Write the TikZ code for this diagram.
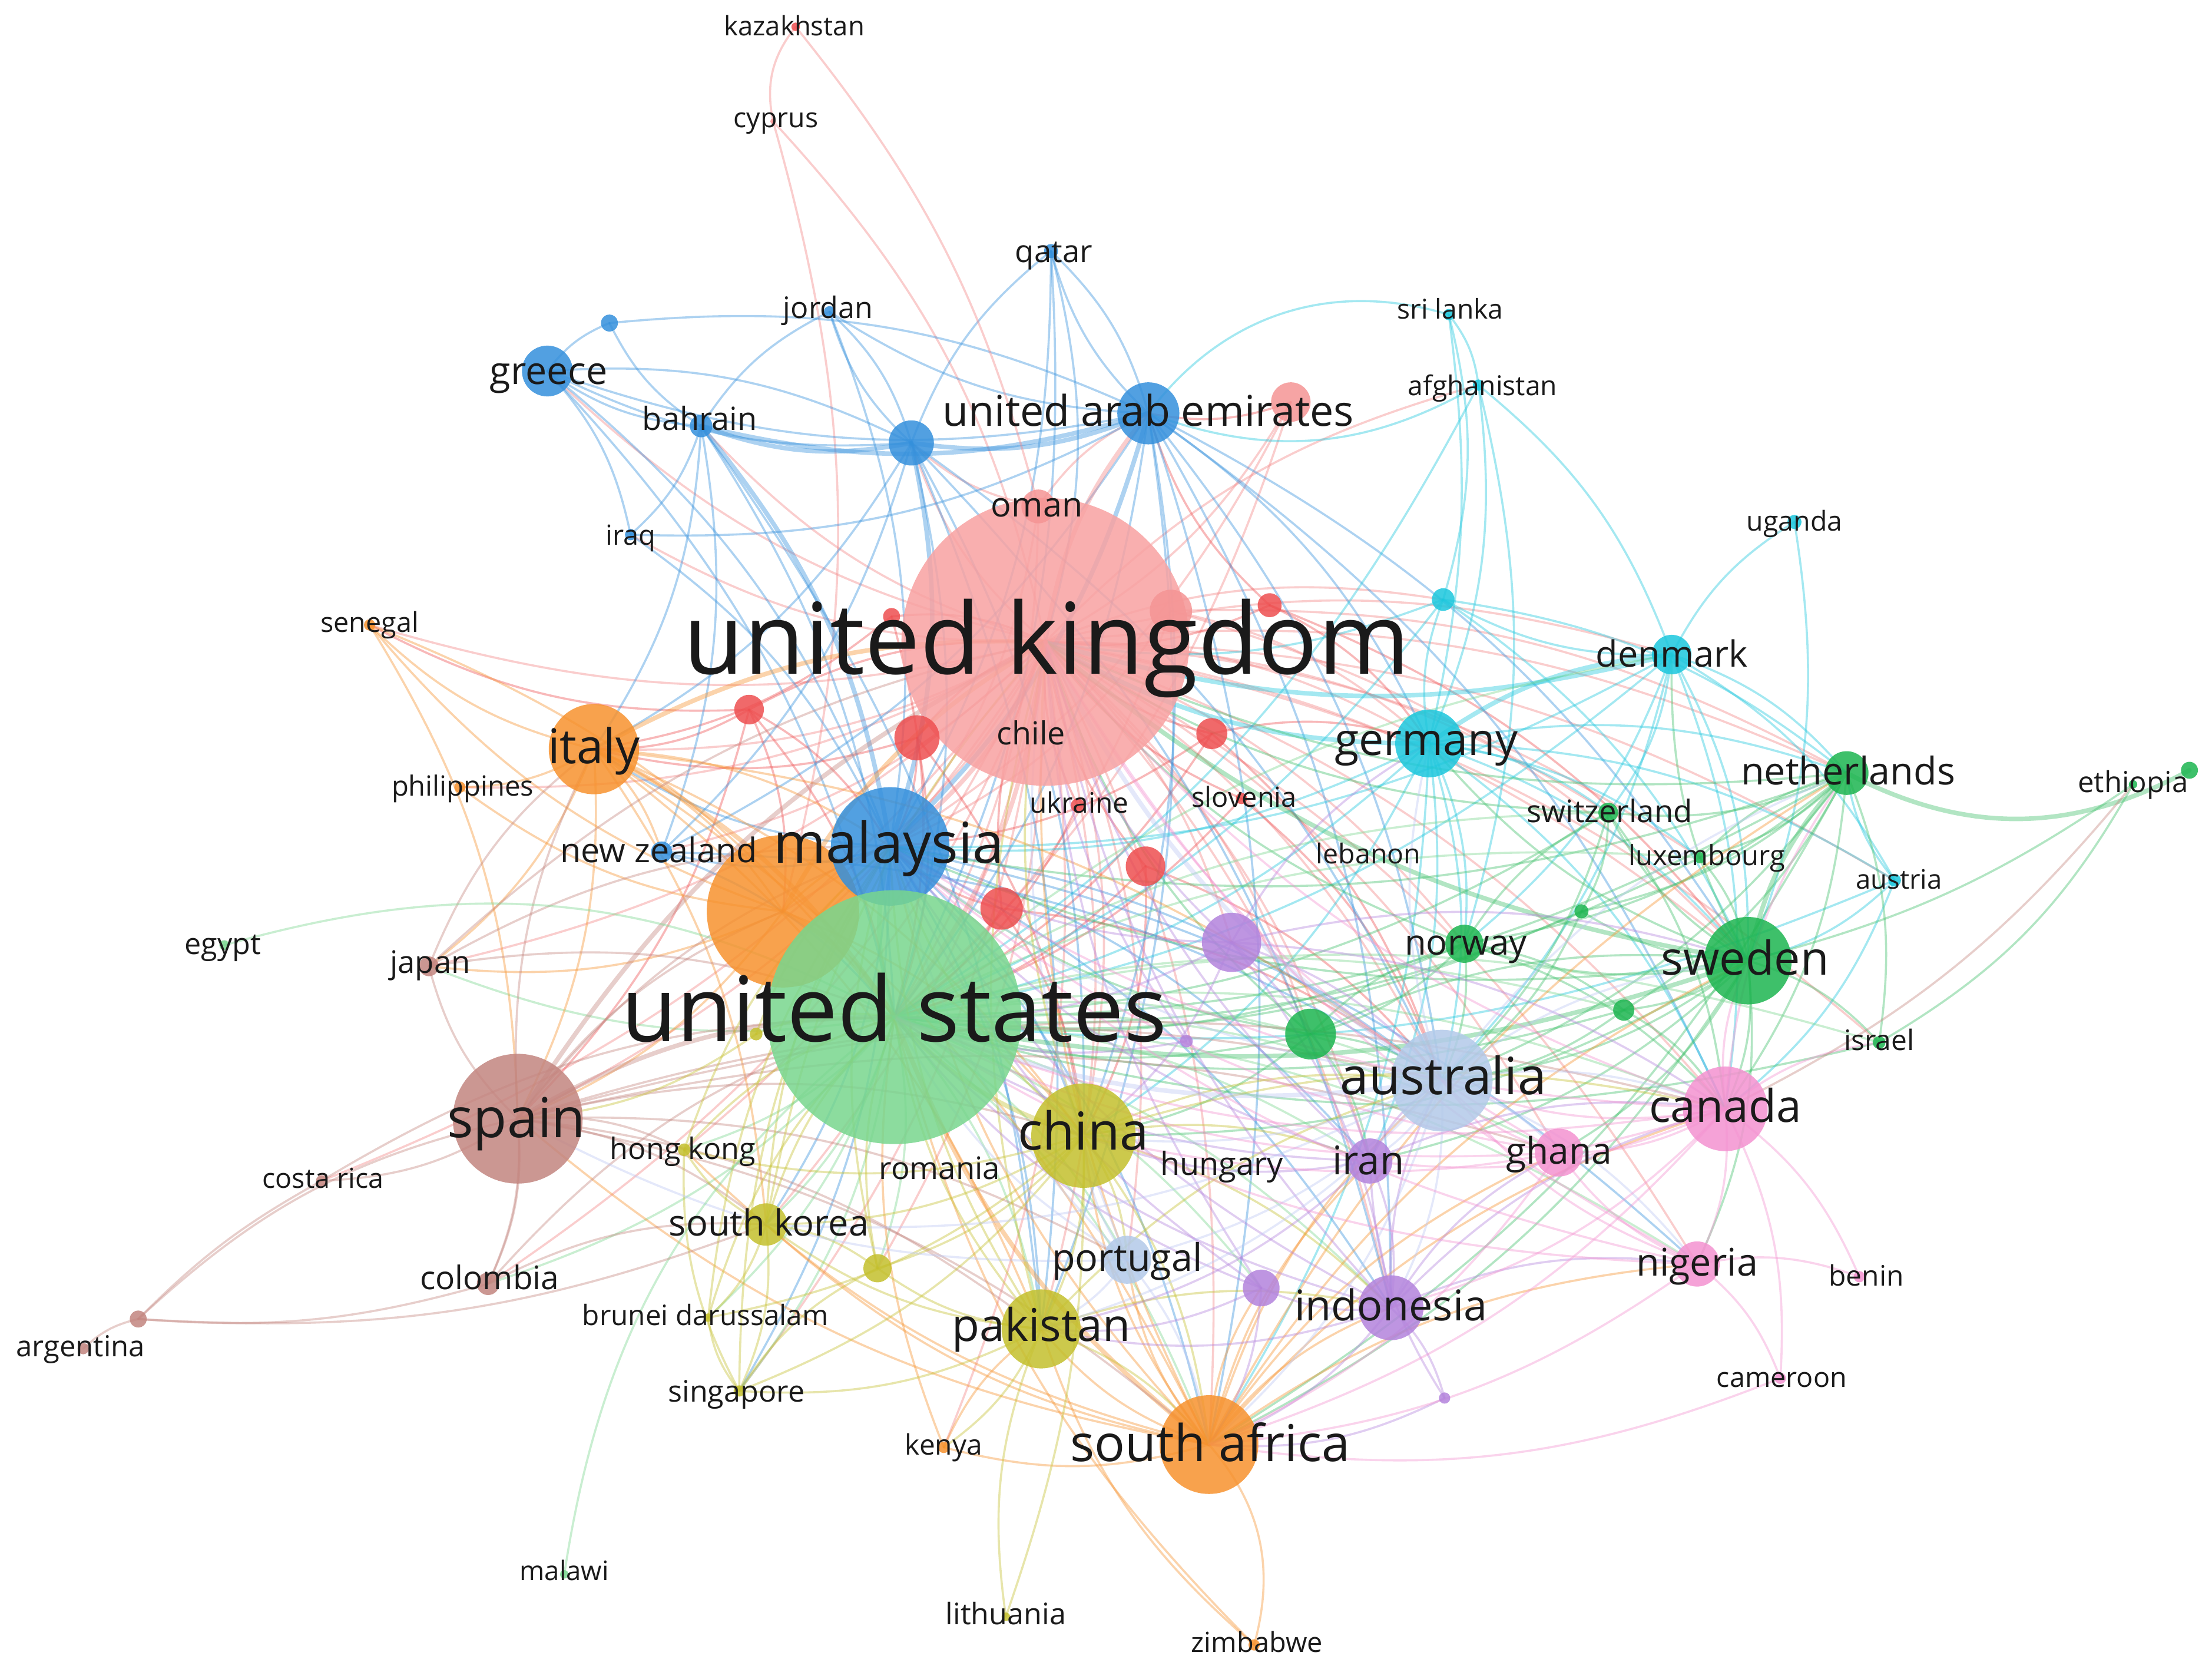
\documentclass[tikz,border=0pt]{standalone}
\usepackage{fontspec}
\setmainfont{Open Sans}
\definecolor{cUK}{HTML}{F8A2A2}
\definecolor{cUS}{HTML}{78D68E}
\definecolor{cB}{HTML}{3490DC}
\definecolor{cO}{HTML}{F7922E}
\definecolor{cBr}{HTML}{C3857F}
\definecolor{cY}{HTML}{C4C02D}
\definecolor{cLB}{HTML}{B3CAE9}
\definecolor{cPk}{HTML}{F492D0}
\definecolor{cG}{HTML}{1DB550}
\definecolor{cC}{HTML}{1CC7DD}
\definecolor{cP}{HTML}{B383DC}
\definecolor{cRd}{HTML}{EE4F50}
\definecolor{cRl}{HTML}{F59595}
\definecolor{labc}{HTML}{1A1A1A}
\pgfdeclarelayer{bg}
\pgfdeclarelayer{edgelayer}
\pgfsetlayers{bg,edgelayer,main}
\tikzset{
  vdot/.style={circle, inner sep=0pt, outer sep=0pt, fill opacity=0.85, draw=none},
  vlab/.style={inner sep=0pt, outer sep=0pt, text=labc, anchor=base},
  eg/.style={line width=1.5pt, draw opacity=0.4, line cap=round},
  egt/.style={line width=3.2pt},
  eR/.style={eg, draw=cRd!70!white},
  eRd/.style={eg, draw=cRd},
  eB/.style={eg, draw=cB},
  eC/.style={eg, draw=cC},
  eG/.style={eg, draw=cG!85!white},
  eLG/.style={eg, draw=cUS},
  eO/.style={eg, draw=cO},
  eBr/.style={eg, draw=cBr},
  eY/.style={eg, draw=cY},
  eP/.style={eg, draw=cP},
  eLB/.style={eg, draw=cLB!80!blue!60!white},
  ePk/.style={eg, draw=cPk},
}
\newcommand\nd[5]{\node[vdot, minimum size=#4pt, fill=#5] (#1) at (#2,#3) {};}
\newcommand\lab[5]{\node[vlab, font=\fontsize{#4pt}{#4pt}\selectfont] (l#1) at (#2,{#3+0.27*#4}) {#5};}
\newcommand\E[2]{\foreach \a/\b in {#2}{\draw[#1] (\a.center) to[bend left=15] (\b.center);}}
\begin{document}
\begin{tikzpicture}[x=1pt,y=-1pt]
\useasboundingbox (0,0) rectangle (1568,1183);
\begin{pgfonlayer}{bg}
\fill[white] (0,0) rectangle (1568,1183);
\end{pgfonlayer}
% nodes
\nd{uk}{741}{455}{204}{cUK}
\nd{o1}{555}{646}{108}{cO}
\nd{my}{631}{600}{84}{cB}
\nd{us}{634}{721}{180}{cUS}
\nd{it}{421}{531}{64}{cO}
\nd{es}{367}{793}{92}{cBr}
\nd{cn}{768}{805}{74}{cY}
\nd{au}{1022}{766}{72}{cLB}
\nd{ca}{1223}{786}{60}{cPk}
\nd{se}{1239}{681}{62}{cG}
\nd{de}{1013}{527}{48}{cC}
\nd{nl}{1309}{548}{31}{cG}
\nd{dk}{1185}{464}{28}{cC}
\nd{ae}{814}{293}{44}{cB}
\nd{gr}{388}{263}{36}{cB}
\nd{pk}{738}{942}{56}{cY}
\nd{za}{857}{1024}{70}{cO}
\nd{id}{986}{927}{46}{cP}
\nd{pt}{799}{893}{34}{cLB}
\nd{kr}{543}{868}{30}{cY}
\nd{ng}{1203}{896}{32}{cPk}
\nd{ir}{971}{823}{32}{cP}
\nd{gh}{1105}{817}{34}{cPk}
\nd{nor}{1038}{669}{27}{cG}
\nd{nz}{469}{604}{15}{cB}
\nd{bh}{497}{302}{16}{cB}
\nd{jo}{588}{221}{8}{cB}
\nd{qa}{745}{178}{10}{cB}
\nd{om}{736}{359}{24}{cRl}
\nd{hk}{485}{815}{9}{cY}
\nd{co}{346}{910}{16}{cBr}
\nd{cr}{228}{837}{8}{cBr}
\nd{ar}{59}{956}{8}{cBr}
\nd{ar2}{98}{935}{12}{cBr}
\nd{jp}{304}{685}{14}{cBr}
\nd{eg}{159}{670}{7}{cUS}
\nd{sn}{262}{443}{8}{cO}
\nd{ph}{326}{558}{8}{cO}
\nd{iq}{447}{379}{8}{cB}
\nd{kz}{564}{19}{6}{cRd}
\nd{cy}{548}{86}{4}{cRl}
\nd{lk}{1027}{223}{8}{cC}
\nd{af}{1048}{273}{8}{cC}
\nd{ug}{1272}{370}{10}{cC}
\nd{et}{1512}{556}{6}{cG}
\nd{et2}{1552}{546}{12}{cG}
\nd{atr}{1343}{624}{9}{cC}
\nd{lu}{1205}{608}{8}{cG}
\nd{ch}{1140}{576}{14}{cG}
\nd{il}{1332}{739}{9}{cG}
\nd{ua}{764}{571}{10}{cRd}
\nd{si}{880}{566}{8}{cRd}
\nd{bj}{1318}{905}{8}{cPk}
\nd{cmr}{1262}{977}{8}{cPk}
\nd{bn}{502}{934}{6}{cY}
\nd{sg}{524}{986}{8}{cY}
\nd{ke}{669}{1026}{8}{cO}
\nd{mw}{400}{1116}{6}{cUS}
\nd{lt}{713}{1146}{6}{cY}
\nd{zw}{889}{1166}{8}{cO}
\nd{b1}{432}{229}{12}{cB}
\nd{b2}{646}{314}{32}{cB}
\nd{r1}{915}{285}{28}{cRl}
\nd{r2}{531}{503}{21}{cRd}
\nd{r3}{650}{523}{32}{cRd}
\nd{r4}{859}{520}{22}{cRd}
\nd{r5}{900}{429}{17}{cRd}
\nd{r6}{830}{433}{30}{cRl}
\nd{r7}{710}{644}{30}{cRd}
\nd{r8}{812}{614}{28}{cRd}
\nd{r9}{632}{437}{12}{cRd}
\nd{c1}{1023}{425}{16}{cC}
\nd{p1}{873}{668}{42}{cP}
\nd{p2}{894}{913}{26}{cP}
\nd{p3}{1024}{991}{8}{cP}
\nd{p4}{841}{738}{9}{cP}
\nd{g1}{929}{733}{36}{cG}
\nd{g2}{1151}{716}{15}{cG}
\nd{g3}{1121}{646}{10}{cG}
\nd{y1}{622}{899}{20}{cY}
\nd{y2}{536}{733}{9}{cY}
% edges
\begin{pgfonlayer}{edgelayer}
\E{eR}{uk/it,uk/es,uk/cn,uk/au,uk/ca,uk/se,uk/de,uk/nl,uk/dk,uk/gr,uk/pk,uk/za,uk/id,uk/pt,uk/kr,uk/ng,uk/ir,uk/gh,uk/nor,uk/nz,uk/bh,uk/jp,uk/sn,uk/ph,uk/ch,uk/o1,uk/b2,uk/p1,uk/g1,uk/c1,uk/y1,uk/co,uk/hk,uk/lu,uk/atr,uk/il,uk/af,uk/iq,uk/cr,uk/sg,uk/ke,cy/uk,cy/o1,r6/us,r6/de,r6/my,om/us,om/my,om/b2,r1/us,r1/my,r1/uk,om/ae,r6/se,r6/nl}
\E{eRd}{r2/it,r2/us,r2/uk,r2/es,r2/my,r2/o1,r2/sn,r3/uk,r3/us,r3/my,r3/it,r3/cn,r4/uk,r4/us,r4/au,r4/de,r4/my,r7/us,r7/uk,r7/cn,r7/my,r7/au,r8/uk,r8/us,r8/au,r8/cn,r5/uk,r5/de,r5/ae,r5/se,ua/uk,ua/us,si/uk,si/us,si/au,r9/uk,r9/it,r9/us,r1/ae}
\E{eB}{ae/qa,ae/jo,ae/gr,ae/us,ae/iq,ae/au,ae/pk,ae/cn,ae/de,ae/za,ae/id,ae/nz,ae/ca,ae/se,b2/qa,b2/gr,b2/us,b2/cn,b2/jo,b2/pk,b2/it,b2/au,b2/nz,b2/id,bh/gr,bh/b1,bh/iq,bh/us,bh/nz,bh/jo,bh/it,bh/pk,gr/b1,gr/iq,gr/my,gr/us,gr/b2,qa/my,qa/us,qa/uk,jo/my,jo/b2,my/nz,my/it,my/pk,my/cn,my/au,my/id,my/za,my/kr,my/ir,my/ng,my/sg,nz/us,nz/au,iq/my,b1/ae,qa/ae}
\E{eB,egt}{ae/b2,b2/bh,ae/bh,ae/my,b2/my,bh/my}
\E{eC}{de/us,de/se,de/nl,de/nor,de/ch,de/atr,de/au,de/ca,de/c1,de/lu,de/my,de/cn,de/za,de/ir,dk/ug,dk/nl,dk/se,dk/us,dk/atr,dk/c1,dk/ch,dk/nor,dk/au,dk/my,dk/ca,lk/af,lk/c1,af/de,af/dk,af/us,af/nor,ug/se,c1/nl,c1/se,c1/uk,c1/us,atr/se,atr/nl,atr/us,atr/ca}
\E{eC,egt}{de/dk,dk/uk,de/uk}
\E{eG}{se/nor,se/ca,se/au,se/ch,se/il,se/g2,se/g3,se/de,se/dk,se/my,se/cn,se/za,se/ir,se/gh,se/ng,nl/ch,nl/lu,nl/il,nl/ca,nl/us,nl/nor,nl/au,nl/g2,nl/uk,nl/my,nl/g3,nl/za,nor/g1,nor/us,nor/uk,nor/au,nor/ch,nor/g2,nor/ca,g1/us,g1/cn,g1/au,g1/se,g1/nor,g1/my,g1/uk,g1/ir,ch/us,ch/uk,ch/au,ch/g3,ch/ca,lu/se,lu/us,lu/nl,g2/au,g2/us,g2/ca,g3/us,g3/au,il/us,et/il}
\E{eG,egt}{se/nl,se/us,se/uk}
\E{eLG}{us/cn,us/au,us/ca,us/pk,us/za,us/kr,us/id,us/pt,us/ng,us/ir,us/gh,us/jp,us/hk,us/y1,us/p2,us/sg,us/co,us/bn,us/g2,us/dk,us/ch,us/il,us/lu}
\E{eO}{it/sn,it/ph,it/es,it/my,it/nz,it/cn,it/za,it/o1,it/au,it/pk,it/jp,it/kr,o1/sn,o1/es,o1/my,o1/ph,o1/jp,o1/cn,za/ke,za/pk,za/cn,za/id,za/ng,za/au,za/gh,za/ca,za/pt,za/kr,za/es,za/my,za/hk,za/uk,za/ir,za/p2,za/nl,za/se,sn/us,sn/es,ke/pk,ke/us,zw/us,zw/pk}
\E{eO,egt}{it/us,it/uk,o1/us,o1/uk,za/us}
\E{eBr}{es/cr,es/co,es/jp,es/it,es/cn,es/hk,es/kr,es/pk,es/my,es/au,es/za,es/pt,es/o1,es/ca,es/gh,co/kr,co/us,jp/us,jp/it,jp/my,jp/uk,cr/us,ar/ar2}
\E{eBr,egt}{es/us,es/uk}
\E{eY}{cn/pk,cn/kr,cn/uk,cn/my,cn/au,cn/hk,cn/sg,cn/y1,cn/bn,cn/pt,cn/za,cn/ca,cn/id,cn/ir,pk/my,pk/us,pk/uk,pk/sg,pk/ke,pk/y1,pk/za,pk/id,pk/au,pk/kr,kr/sg,kr/bn,kr/hk,kr/us,kr/uk,kr/my,kr/y1,sg/bn,sg/y1,sg/hk,sg/my,y1/us,y1/my,y2/us,y2/my,y2/es,hk/us,hk/my,bn/us,bn/my}
\E{eY,egt}{cn/us}
\E{eP}{p1/us,p1/uk,p1/ir,p1/id,p1/au,p1/my,p1/cn,p1/ca,p1/se,p1/de,ir/id,ir/au,ir/us,ir/uk,ir/my,ir/ca,ir/cn,ir/pk,id/p3,id/my,id/us,id/za,id/ng,id/pk,id/p2,id/uk,id/au,id/ca,id/gh,p2/us,p2/uk,p2/za,p2/my,p2/pk,p4/us,p4/uk,p3/ir,p3/za}
\E{eLB}{au/cn,au/ca,au/pk,au/pt,au/gh,au/ng,au/za,au/de,au/my,au/id,au/ir,au/se,au/nl,au/kr,pt/es,pt/cn,pt/za,pt/uk,pt/us,pt/my,pt/pk}
\E{eLB,egt}{au/us,au/uk}
\E{ePk}{ca/ng,ca/gh,ca/bj,ca/cmr,ca/us,ca/uk,ca/au,ca/za,ca/il,ca/nl,ca/se,ca/my,ca/cn,ca/id,ca/ir,ng/gh,ng/bj,ng/cmr,ng/za,ng/uk,ng/us,ng/my,ng/au,gh/uk,gh/us,gh/za,gh/au,gh/my,cmr/za}
\E{eR,egt}{uk/us,uk/my,uk/ae}
\E{eLG,egt}{us/my}
% special curves
\draw[eR] (kz.center) to[bend left=12] (om.center);
\draw[eR] (kz.center) to[bend right=25] (cy.center);
\draw[eLG] (eg.center) to[bend left=22] (us.center);
\draw[eLG] (mw.center) to[bend left=22] (us.center);
\draw[eG,egt] (nl.center) to[bend right=28] (et2.center);
\draw[eO] (za.center) to[bend left=28] (zw.center);
\draw[eY] (lt.center) to[bend left=15] (pk.center);
\draw[eY] (lt.center) to[bend right=10] (cn.center);
\draw[eBr] (ar2.center) to[bend left=15] (es.center);
\draw[eBr] (ar2.center) to[bend left=8] (cr.center);
\draw[eBr] (ar2.center) to[bend right=10] (co.center);
\draw[eBr] (ar2.center) to[bend right=12] (kr.center);
\draw[eBr] (co.center) to[bend right=14] (es.center);
\draw[eC] (lk.center) to[bend right=35] (ae.center);
\draw[eC] (ae.center) to[bend right=25] (af.center);
\draw[eC] (lk.center) to[bend left=10] (de.center);
\draw[eBr] (et.center) to[bend left=12] (ca.center);
\draw[eG] (et.center) to[bend left=10] (se.center);
\end{pgfonlayer}
% labels
\lab{uk}{742}{459}{70}{united kingdom}
\lab{us}{634}{721}{64}{united states}
\lab{my}{630}{601}{40}{malaysia}
\lab{it}{421}{532}{34}{italy}
\lab{es}{366}{796}{39}{spain}
\lab{cn}{768}{805}{37}{china}
\lab{au}{1023}{766}{36.5}{australia}
\lab{ca}{1223}{787}{32}{canada}
\lab{se}{1237}{682}{33}{sweden}
\lab{de}{1011}{527}{31.5}{germany}
\lab{nl}{1310}{549}{27}{netherlands}
\lab{dk}{1185}{466}{25.6}{denmark}
\lab{ae}{814}{294}{30}{united arab emirates}
\lab{gr}{389}{265}{27}{greece}
\lab{pk}{738}{942}{32}{pakistan}
\lab{za}{858}{1026}{36}{south africa}
\lab{id}{986}{928}{30}{indonesia}
\lab{pt}{799}{894}{27}{portugal}
\lab{kr}{545}{869}{25.6}{south korea}
\lab{ng}{1203}{897}{27}{nigeria}
\lab{ir}{970}{825}{28}{iran}
\lab{gh}{1105}{818}{26}{ghana}
\lab{nor}{1039}{670}{25}{norway}
\lab{nz}{467}{605}{24}{new zealand}
\lab{bh}{496}{299}{22.6}{bahrain}
\lab{jo}{587}{220}{21}{jordan}
\lab{qa}{747}{180}{22}{qatar}
\lab{om}{735}{360}{24}{oman}
\lab{hk}{484}{816}{21}{hong kong}
\lab{ro}{666}{830}{22}{romania}
\lab{hu}{866}{827}{22.6}{hungary}
\lab{co}{347}{908}{23}{colombia}
\lab{cr}{229}{837}{19.5}{costa rica}
\lab{ar}{57}{956}{20.5}{argentina}
\lab{jp}{305}{684}{22}{japan}
\lab{eg}{158}{671}{21}{egypt}
\lab{sn}{262}{443}{19.5}{senegal}
\lab{ph}{328}{559}{19.7}{philippines}
\lab{iq}{447}{381}{19.6}{iraq}
\lab{kz}{563}{20}{19}{kazakhstan}
\lab{cy}{550}{85}{19.4}{cyprus}
\lab{lk}{1028}{221}{19.3}{sri lanka}
\lab{af}{1051}{275}{19.3}{afghanistan}
\lab{ug}{1272}{371}{19.4}{uganda}
\lab{et}{1512}{556}{20.5}{ethiopia}
\lab{atr}{1346}{625}{19}{austria}
\lab{lu}{1210}{608}{19.7}{luxembourg}
\lab{ch}{1141}{577}{22}{switzerland}
\lab{lb}{970}{607}{19.4}{lebanon}
\lab{il}{1332}{739}{20}{israel}
\lab{ua}{765}{571}{20}{ukraine}
\lab{si}{882}{567}{19.6}{slovenia}
\lab{cl}{731}{522}{22.5}{chile}
\lab{bj}{1323}{906}{20}{benin}
\lab{cmr}{1263}{978}{19.5}{cameroon}
\lab{bn}{500}{934}{19.9}{brunei darussalam}
\lab{sg}{522}{988}{21}{singapore}
\lab{ke}{669}{1026}{20}{kenya}
\lab{mw}{400}{1115}{19}{malawi}
\lab{lt}{713}{1146}{21}{lithuania}
\lab{zw}{891}{1166}{19.6}{zimbabwe}
\end{tikzpicture}
\end{document}
